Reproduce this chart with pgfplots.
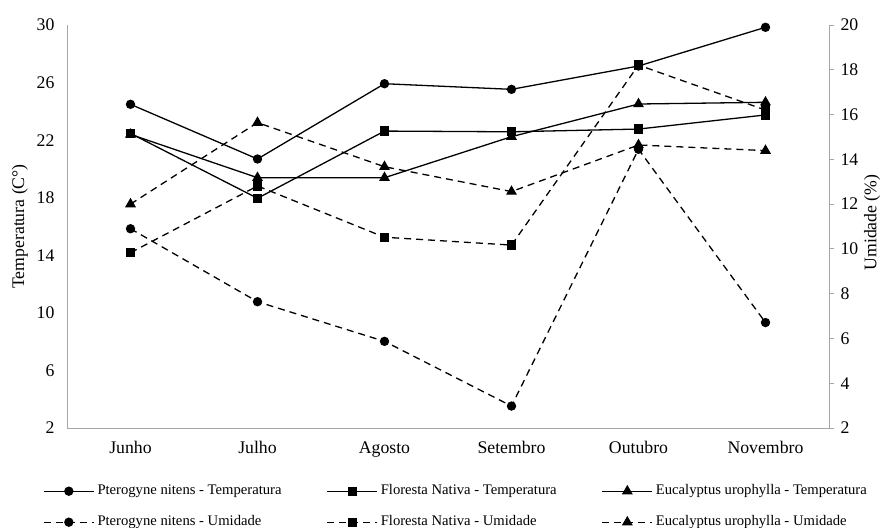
\documentclass[border=0pt]{standalone}
\usepackage{pgfplots}
\pgfplotsset{compat=1.18}
\usepackage{fontspec}
\setmainfont{Liberation Serif}

\pgfplotsset{
  base/.style={
    width=762bp, height=403bp, scale only axis,
    at={(0,0)}, anchor=south west,
    xmin=-0.5, xmax=5.5,
    axis line style={gray!70, line width=0.8bp},
    tick label style={font=\fontsize{17.8}{20}\selectfont},
    /pgf/number format/assume math mode=true,
  },
  temp/.style={black, line width=1.3bp, solid},
  umid/.style={black, line width=1.3bp, dash pattern=on 7bp off 5bp},
  mc/.style={mark=*, mark size=4bp, mark options={solid, fill=black}},
  ms/.style={mark=square*, mark size=4bp, mark options={solid, fill=black}},
  mt/.style={mark=triangle*, mark size=5bp, mark options={solid, fill=black}},
}

\begin{document}
\begin{tikzpicture}
\useasboundingbox (-67bp,-100bp) rectangle (816bp,428bp);

\begin{axis}[base,
  axis y line*=left, axis x line*=bottom,
  ymin=2, ymax=30, ytick={2,6,...,30},
  xtick={0,...,5},
  xticklabels={Junho,Julho,Agosto,Setembro,Outubro,Novembro},
  major tick length=0pt,
  yticklabel style={xshift=-9bp},
  xticklabel style={yshift=-10bp},
  ylabel={Temperatura (C°)},
  every axis y label/.style={at={(axis description cs:-0.0617,0.5)}, rotate=90, anchor=center,
    font=\fontsize{17.8}{20}\selectfont},
]
\addplot[temp, mc] coordinates {(0,24.49)(1,20.69)(2,25.92)(3,25.53)(4,27.15)(5,29.84)};
\addplot[temp, ms] coordinates {(0,22.47)(1,17.96)(2,22.63)(3,22.58)(4,22.77)(5,23.75)};
\addplot[temp, mt] coordinates {(0,22.40)(1,19.39)(2,19.39)(3,22.24)(4,24.51)(5,24.63)};
\end{axis}

\begin{axis}[base,
  axis y line*=right, axis x line=none,
  ymin=2, ymax=20, ytick={2,4,...,20},
  tick align=outside, major tick length=5bp,
  ytick style={gray!70, line width=0.8bp},
  yticklabel style={xshift=3bp},
  ylabel={Umidade (\%)},
  every axis y label/.style={at={(axis description cs:1.0565,0.51)}, rotate=90, anchor=center,
    font=\fontsize{17.8}{20}\selectfont},
  legend columns=3,
  legend image code/.code={\draw[mark repeat=2, mark phase=2, #1] plot coordinates {(0bp,0bp)(25bp,0bp)(50bp,0bp)};},
  legend style={
    at={(axis description cs:-0.0315,-0.1377)}, anchor=north west,
    draw=none, fill=none, inner sep=0pt,
    font=\fontsize{14.7}{16}\selectfont,
    cells={anchor=west},
    nodes={inner sep=1bp, text height=10bp, text depth=3bp},
    row sep=16bp,
    /tikz/every odd column/.append style={column sep=2bp},
    /tikz/every even column/.append style={column sep=44bp},
  },
]
\addlegendimage{temp, mc}
\addlegendentry{Pterogyne nitens - Temperatura}
\addlegendimage{temp, ms}
\addlegendentry{Floresta Nativa - Temperatura}
\addlegendimage{temp, mt}
\addlegendentry{Eucalyptus urophylla - Temperatura}
\addplot[umid, mc] coordinates {(0,10.90)(1,7.64)(2,5.87)(3,2.98)(4,14.45)(5,6.71)};
\addlegendentry{Pterogyne nitens - Umidade}
\addplot[umid, ms] coordinates {(0,9.83)(1,12.81)(2,10.52)(3,10.17)(4,18.21)(5,16.20)};
\addlegendentry{Floresta Nativa - Umidade}
\addplot[umid, mt] coordinates {(0,12.00)(1,15.64)(2,13.67)(3,12.56)(4,14.64)(5,14.39)};
\addlegendentry{Eucalyptus urophylla - Umidade}
\end{axis}
\end{tikzpicture}
\end{document}
